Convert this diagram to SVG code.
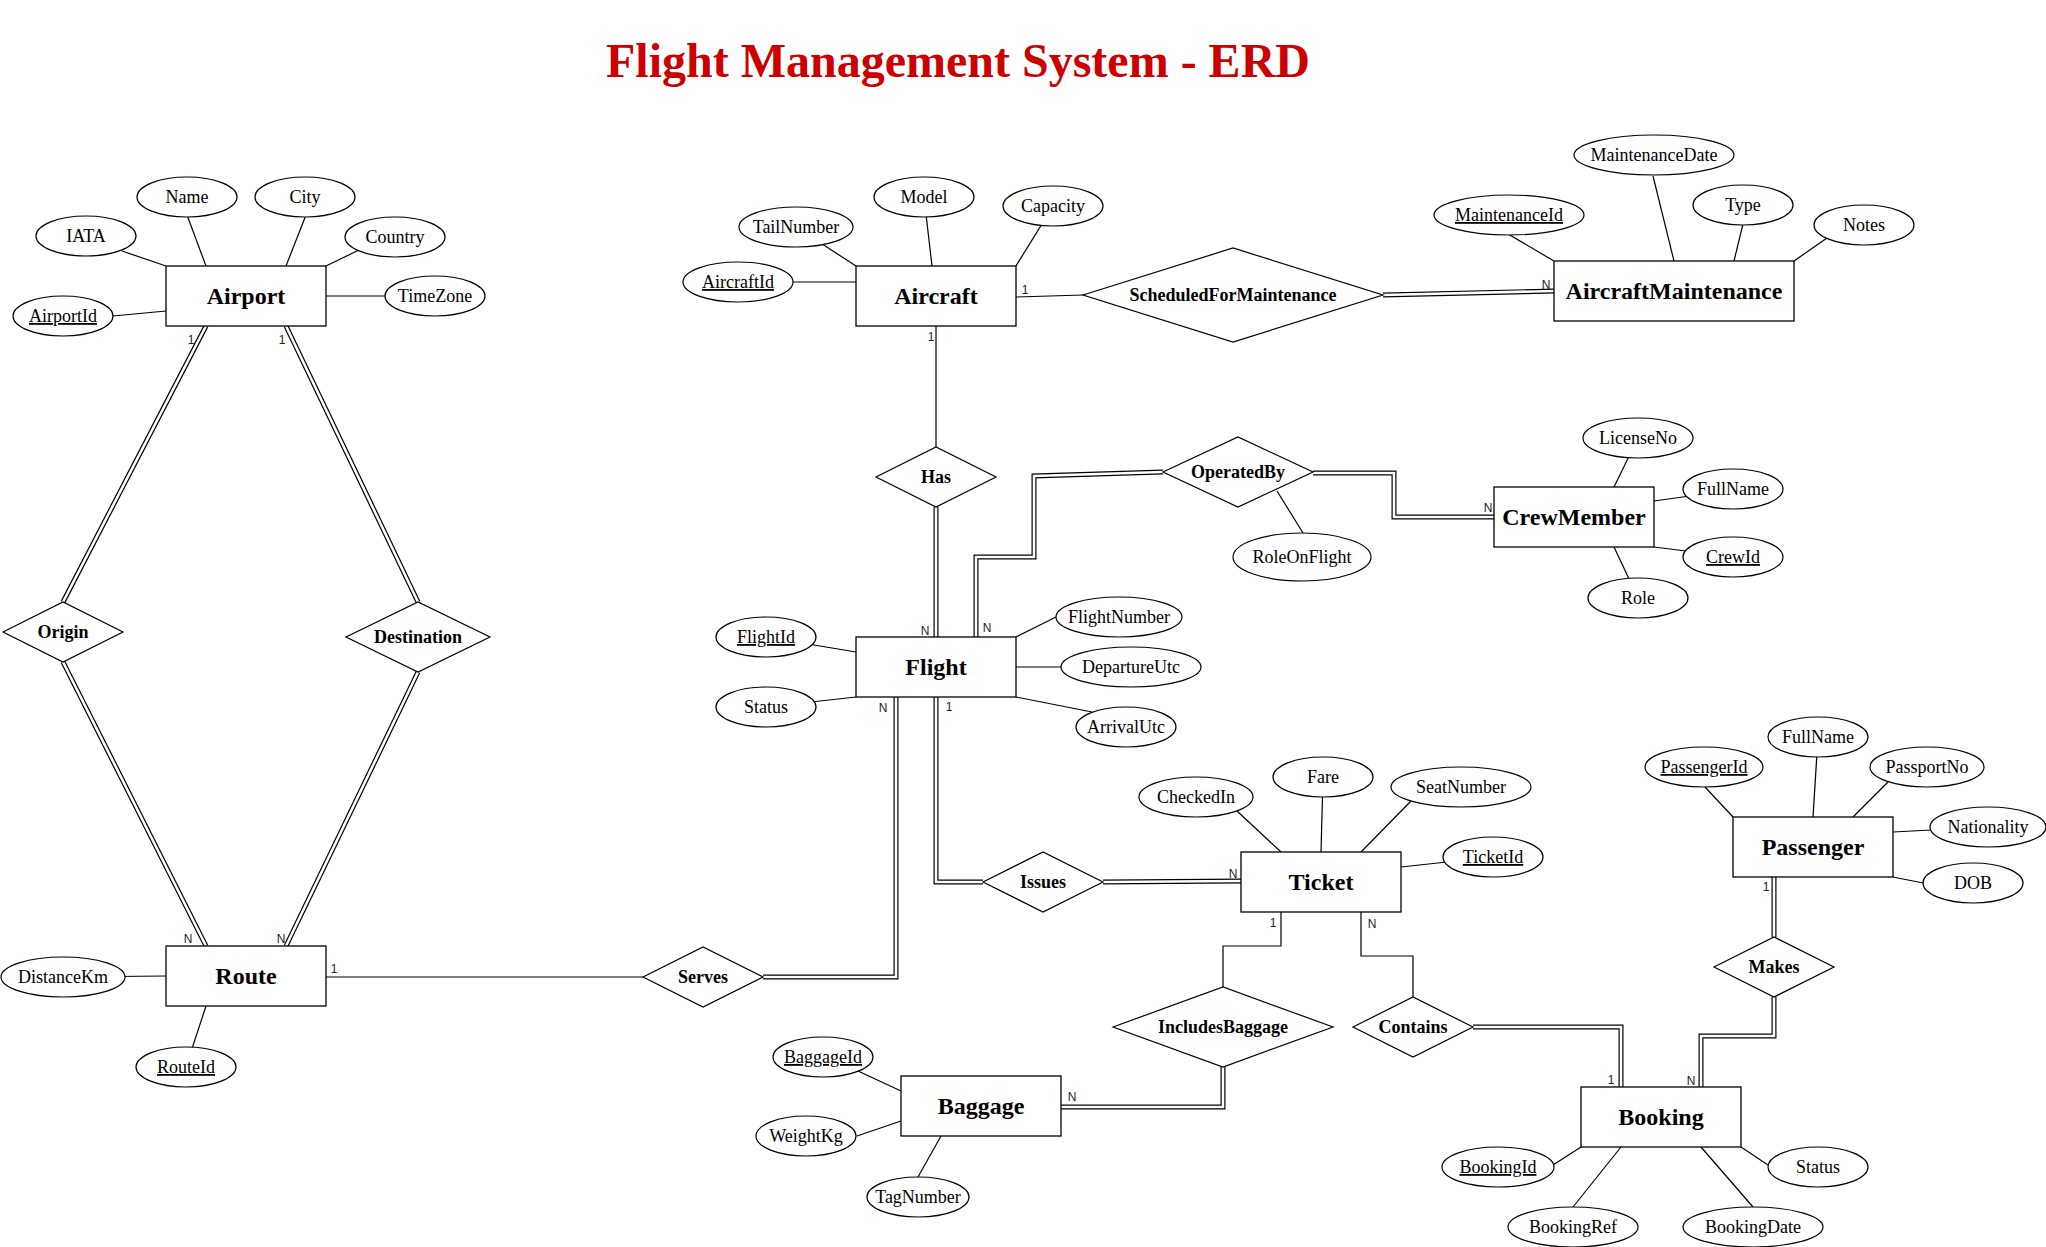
<svg xmlns="http://www.w3.org/2000/svg" width="2046" height="1247" viewBox="0 0 2046 1247">
<style>
.bg{fill:#fff}
.title{font-family:"Liberation Serif",serif;font-weight:bold;font-size:48px;fill:#cc0000;text-anchor:middle}
.ent rect{fill:#fff;stroke:#000;stroke-width:1.3}
.ent text{font-family:"Liberation Serif",serif;font-weight:bold;font-size:24px;fill:#000;text-anchor:middle}
.rel polygon{fill:#fff;stroke:#000;stroke-width:1.2}
.rel text{font-family:"Liberation Serif",serif;font-weight:bold;font-size:18px;fill:#000;text-anchor:middle}
.attr ellipse{fill:#fff;stroke:#000;stroke-width:1.2}
.attr text{font-family:"Liberation Serif",serif;font-size:18px;fill:#000;text-anchor:middle}
.key text{text-decoration:underline}
.ln{stroke:#000;stroke-width:1.2;fill:none}
.d1{stroke:#000;stroke-width:5;fill:none}
.d2{stroke:#fff;stroke-width:2.6;fill:none}
.card{font-family:"Liberation Sans",Arial,sans-serif;font-size:12px;fill:#222;text-anchor:middle}
</style>
<rect class="bg" x="0" y="0" width="2046" height="1247"/>
<text class="title" x="958" y="77">Flight Management System - ERD</text>

<g id="connectors">
  <g id="attr-lines">
    <line class="ln" x1="166" y1="266" x2="122" y2="251"/>
    <line class="ln" x1="206" y1="266" x2="187" y2="215"/>
    <line class="ln" x1="286" y1="266" x2="306" y2="215"/>
    <line class="ln" x1="326" y1="266" x2="359" y2="250"/>
    <line class="ln" x1="326" y1="296" x2="385" y2="296"/>
    <line class="ln" x1="166" y1="311" x2="113" y2="316"/>

    <line class="ln" x1="856" y1="282" x2="793" y2="282"/>
    <line class="ln" x1="856" y1="266" x2="796" y2="227"/>
    <line class="ln" x1="932" y1="266" x2="924" y2="197"/>
    <line class="ln" x1="1016" y1="266" x2="1053" y2="206"/>

    <line class="ln" x1="1554" y1="261" x2="1508" y2="234"/>
    <line class="ln" x1="1674" y1="261" x2="1653" y2="176"/>
    <line class="ln" x1="1734" y1="261" x2="1743" y2="224"/>
    <line class="ln" x1="1794" y1="261" x2="1827" y2="238"/>

    <line class="ln" x1="856" y1="652" x2="766" y2="637"/>
    <line class="ln" x1="856" y1="697" x2="766" y2="707"/>
    <line class="ln" x1="1016" y1="637" x2="1056" y2="617"/>
    <line class="ln" x1="1016" y1="667" x2="1061" y2="667"/>
    <line class="ln" x1="1016" y1="697" x2="1092" y2="712"/>

    <line class="ln" x1="1277" y1="491" x2="1303" y2="533"/>

    <line class="ln" x1="1614" y1="487" x2="1638" y2="438"/>
    <line class="ln" x1="1654" y1="501" x2="1733" y2="490"/>
    <line class="ln" x1="1654" y1="547" x2="1733" y2="557"/>
    <line class="ln" x1="1614" y1="547" x2="1638" y2="598"/>

    <line class="ln" x1="166" y1="976" x2="63" y2="977"/>
    <line class="ln" x1="206" y1="1006" x2="186" y2="1067"/>

    <line class="ln" x1="1281" y1="852" x2="1237" y2="811"/>
    <line class="ln" x1="1321" y1="852" x2="1323" y2="777"/>
    <line class="ln" x1="1361" y1="852" x2="1411" y2="801"/>
    <line class="ln" x1="1401" y1="867" x2="1493" y2="857"/>

    <line class="ln" x1="901" y1="1091" x2="858" y2="1071"/>
    <line class="ln" x1="901" y1="1121" x2="857" y2="1136"/>
    <line class="ln" x1="941" y1="1136" x2="918" y2="1177"/>

    <line class="ln" x1="1733" y1="817" x2="1705" y2="787"/>
    <line class="ln" x1="1813" y1="817" x2="1818" y2="737"/>
    <line class="ln" x1="1853" y1="817" x2="1888" y2="782"/>
    <line class="ln" x1="1893" y1="832" x2="1989" y2="827"/>
    <line class="ln" x1="1893" y1="877" x2="1923" y2="883"/>

    <line class="ln" x1="1581" y1="1147" x2="1553" y2="1165"/>
    <line class="ln" x1="1621" y1="1147" x2="1573" y2="1207"/>
    <line class="ln" x1="1701" y1="1147" x2="1753" y2="1207"/>
    <line class="ln" x1="1741" y1="1147" x2="1768" y2="1165"/>
  </g>

  <g id="rel-lines">
    <path class="d1" d="M206,326 L63,602"/><path class="d2" d="M206,326 L63,602"/>
    <path class="d1" d="M63,662 L206,946"/><path class="d2" d="M63,662 L206,946"/>
    <path class="d1" d="M286,326 L418,602"/><path class="d2" d="M286,326 L418,602"/>
    <path class="d1" d="M418,672 L286,946"/><path class="d2" d="M418,672 L286,946"/>
    <path class="ln" d="M326,977 L643,977"/>
    <path class="d1" d="M763,977 L896,977 L896,697"/><path class="d2" d="M763,977 L896,977 L896,697"/>
    <path class="ln" d="M936,326 L936,447"/>
    <path class="d1" d="M936,507 L936,637"/><path class="d2" d="M936,507 L936,637"/>
    <path class="d1" d="M976,637 L976,557 L1034,557 L1034,476 L1163,472"/><path class="d2" d="M976,637 L976,557 L1034,557 L1034,476 L1163,472"/>
    <path class="d1" d="M1313,473 L1394,473 L1394,517 L1494,517"/><path class="d2" d="M1313,473 L1394,473 L1394,517 L1494,517"/>
    <path class="ln" d="M1016,297 L1083,295"/>
    <path class="d1" d="M1383,295 L1554,291"/><path class="d2" d="M1383,295 L1554,291"/>
    <path class="d1" d="M936,697 L936,882 L983,882"/><path class="d2" d="M936,697 L936,882 L983,882"/>
    <path class="d1" d="M1103,882 L1241,881"/><path class="d2" d="M1103,882 L1241,881"/>
    <path class="ln" d="M1281,912 L1281,946 L1223,946 L1223,987"/>
    <path class="d1" d="M1223,1067 L1223,1107 L1061,1107"/><path class="d2" d="M1223,1067 L1223,1107 L1061,1107"/>
    <path class="ln" d="M1361,912 L1361,956 L1413,956 L1413,997"/>
    <path class="d1" d="M1473,1027 L1621,1027 L1621,1087"/><path class="d2" d="M1473,1027 L1621,1027 L1621,1087"/>
    <path class="d1" d="M1774,877 L1774,937"/><path class="d2" d="M1774,877 L1774,937"/>
    <path class="d1" d="M1774,997 L1774,1036 L1701,1036 L1701,1087"/><path class="d2" d="M1774,997 L1774,1036 L1701,1036 L1701,1087"/>
  </g>

  <g id="cardinalities">
    <text class="card" x="191" y="344">1</text>
    <text class="card" x="282" y="344">1</text>
    <text class="card" x="188" y="943">N</text>
    <text class="card" x="281" y="943">N</text>
    <text class="card" x="334" y="973">1</text>
    <text class="card" x="1025" y="294">1</text>
    <text class="card" x="1546" y="289">N</text>
    <text class="card" x="931" y="341">1</text>
    <text class="card" x="925" y="635">N</text>
    <text class="card" x="987" y="632">N</text>
    <text class="card" x="1488" y="512">N</text>
    <text class="card" x="883" y="712">N</text>
    <text class="card" x="949" y="711">1</text>
    <text class="card" x="1233" y="878">N</text>
    <text class="card" x="1273" y="927">1</text>
    <text class="card" x="1372" y="928">N</text>
    <text class="card" x="1072" y="1101">N</text>
    <text class="card" x="1611" y="1084">1</text>
    <text class="card" x="1691" y="1085">N</text>
    <text class="card" x="1766" y="891">1</text>
  </g>
</g>

<g id="Airport" class="ent"><rect x="166" y="266" width="160" height="60"/><text x="246" y="304">Airport</text></g>
<g id="Aircraft" class="ent"><rect x="856" y="266" width="160" height="60"/><text x="936" y="304">Aircraft</text></g>
<g id="AircraftMaintenance" class="ent"><rect x="1554" y="261" width="240" height="60"/><text x="1674" y="299">AircraftMaintenance</text></g>
<g id="Flight" class="ent"><rect x="856" y="637" width="160" height="60"/><text x="936" y="675">Flight</text></g>
<g id="CrewMember" class="ent"><rect x="1494" y="487" width="160" height="60"/><text x="1574" y="525">CrewMember</text></g>
<g id="Route" class="ent"><rect x="166" y="946" width="160" height="60"/><text x="246" y="984">Route</text></g>
<g id="Ticket" class="ent"><rect x="1241" y="852" width="160" height="60"/><text x="1321" y="890">Ticket</text></g>
<g id="Baggage" class="ent"><rect x="901" y="1076" width="160" height="60"/><text x="981" y="1114">Baggage</text></g>
<g id="Passenger" class="ent"><rect x="1733" y="817" width="160" height="60"/><text x="1813" y="855">Passenger</text></g>
<g id="Booking" class="ent"><rect x="1581" y="1087" width="160" height="60"/><text x="1661" y="1125">Booking</text></g>

<g id="ScheduledForMaintenance" class="rel"><polygon points="1083,295 1233,248 1383,295 1233,342"/><text x="1233" y="301">ScheduledForMaintenance</text></g>
<g id="Has" class="rel"><polygon points="876,477 936,447 996,477 936,507"/><text x="936" y="483">Has</text></g>
<g id="OperatedBy" class="rel"><polygon points="1163,472 1238,437 1313,472 1238,507"/><text x="1238" y="478">OperatedBy</text></g>
<g id="Origin" class="rel"><polygon points="3,632 63,602 123,632 63,662"/><text x="63" y="638">Origin</text></g>
<g id="Destination" class="rel"><polygon points="346,637 418,602 490,637 418,672"/><text x="418" y="643">Destination</text></g>
<g id="Serves" class="rel"><polygon points="643,977 703,947 763,977 703,1007"/><text x="703" y="983">Serves</text></g>
<g id="Issues" class="rel"><polygon points="983,882 1043,852 1103,882 1043,912"/><text x="1043" y="888">Issues</text></g>
<g id="IncludesBaggage" class="rel"><polygon points="1113,1027 1223,987 1333,1027 1223,1067"/><text x="1223" y="1033">IncludesBaggage</text></g>
<g id="Contains" class="rel"><polygon points="1353,1027 1413,997 1473,1027 1413,1057"/><text x="1413" y="1033">Contains</text></g>
<g id="Makes" class="rel"><polygon points="1714,967 1774,937 1834,967 1774,997"/><text x="1774" y="973">Makes</text></g>

<g id="Airport-IATA" class="attr"><ellipse cx="86" cy="236" rx="50" ry="20"/><text x="86" y="242">IATA</text></g>
<g id="Airport-Name" class="attr"><ellipse cx="187" cy="197" rx="50" ry="20"/><text x="187" y="203">Name</text></g>
<g id="Airport-City" class="attr"><ellipse cx="305" cy="197" rx="50" ry="20"/><text x="305" y="203">City</text></g>
<g id="Airport-Country" class="attr"><ellipse cx="395" cy="237" rx="50" ry="20"/><text x="395" y="243">Country</text></g>
<g id="Airport-TimeZone" class="attr"><ellipse cx="435" cy="296" rx="50" ry="20"/><text x="435" y="302">TimeZone</text></g>
<g id="Airport-AirportId" class="attr key"><ellipse cx="63" cy="316" rx="50" ry="20"/><text x="63" y="322">AirportId</text></g>

<g id="Aircraft-AircraftId" class="attr key"><ellipse cx="738" cy="282" rx="55" ry="20"/><text x="738" y="288">AircraftId</text></g>
<g id="Aircraft-TailNumber" class="attr"><ellipse cx="796" cy="227" rx="57" ry="20"/><text x="796" y="233">TailNumber</text></g>
<g id="Aircraft-Model" class="attr"><ellipse cx="924" cy="197" rx="50" ry="20"/><text x="924" y="203">Model</text></g>
<g id="Aircraft-Capacity" class="attr"><ellipse cx="1053" cy="206" rx="50" ry="20"/><text x="1053" y="212">Capacity</text></g>

<g id="AircraftMaintenance-MaintenanceId" class="attr key"><ellipse cx="1509" cy="215" rx="75" ry="20"/><text x="1509" y="221">MaintenanceId</text></g>
<g id="AircraftMaintenance-MaintenanceDate" class="attr"><ellipse cx="1654" cy="155" rx="80" ry="20"/><text x="1654" y="161">MaintenanceDate</text></g>
<g id="AircraftMaintenance-Type" class="attr"><ellipse cx="1743" cy="205" rx="50" ry="20"/><text x="1743" y="211">Type</text></g>
<g id="AircraftMaintenance-Notes" class="attr"><ellipse cx="1864" cy="225" rx="50" ry="20"/><text x="1864" y="231">Notes</text></g>

<g id="Flight-FlightId" class="attr key"><ellipse cx="766" cy="637" rx="50" ry="20"/><text x="766" y="643">FlightId</text></g>
<g id="Flight-Status" class="attr"><ellipse cx="766" cy="707" rx="50" ry="20"/><text x="766" y="713">Status</text></g>
<g id="Flight-FlightNumber" class="attr"><ellipse cx="1119" cy="617" rx="63" ry="20"/><text x="1119" y="623">FlightNumber</text></g>
<g id="Flight-DepartureUtc" class="attr"><ellipse cx="1131" cy="667" rx="70" ry="20"/><text x="1131" y="673">DepartureUtc</text></g>
<g id="Flight-ArrivalUtc" class="attr"><ellipse cx="1126" cy="727" rx="50" ry="20"/><text x="1126" y="733">ArrivalUtc</text></g>

<g id="OperatedBy-RoleOnFlight" class="attr"><ellipse cx="1302" cy="557" rx="69" ry="24"/><text x="1302" y="563">RoleOnFlight</text></g>

<g id="CrewMember-LicenseNo" class="attr"><ellipse cx="1638" cy="438" rx="55" ry="20"/><text x="1638" y="444">LicenseNo</text></g>
<g id="CrewMember-FullName" class="attr"><ellipse cx="1733" cy="489" rx="50" ry="20"/><text x="1733" y="495">FullName</text></g>
<g id="CrewMember-CrewId" class="attr key"><ellipse cx="1733" cy="557" rx="50" ry="20"/><text x="1733" y="563">CrewId</text></g>
<g id="CrewMember-Role" class="attr"><ellipse cx="1638" cy="598" rx="50" ry="20"/><text x="1638" y="604">Role</text></g>

<g id="Route-DistanceKm" class="attr"><ellipse cx="63" cy="977" rx="62" ry="20"/><text x="63" y="983">DistanceKm</text></g>
<g id="Route-RouteId" class="attr key"><ellipse cx="186" cy="1067" rx="50" ry="20"/><text x="186" y="1073">RouteId</text></g>

<g id="Ticket-CheckedIn" class="attr"><ellipse cx="1196" cy="797" rx="57" ry="20"/><text x="1196" y="803">CheckedIn</text></g>
<g id="Ticket-Fare" class="attr"><ellipse cx="1323" cy="777" rx="50" ry="20"/><text x="1323" y="783">Fare</text></g>
<g id="Ticket-SeatNumber" class="attr"><ellipse cx="1461" cy="787" rx="70" ry="20"/><text x="1461" y="793">SeatNumber</text></g>
<g id="Ticket-TicketId" class="attr key"><ellipse cx="1493" cy="857" rx="50" ry="20"/><text x="1493" y="863">TicketId</text></g>

<g id="Baggage-BaggageId" class="attr key"><ellipse cx="823" cy="1057" rx="50" ry="20"/><text x="823" y="1063">BaggageId</text></g>
<g id="Baggage-WeightKg" class="attr"><ellipse cx="806" cy="1136" rx="50" ry="20"/><text x="806" y="1142">WeightKg</text></g>
<g id="Baggage-TagNumber" class="attr"><ellipse cx="918" cy="1197" rx="51" ry="20"/><text x="918" y="1203">TagNumber</text></g>

<g id="Passenger-PassengerId" class="attr key"><ellipse cx="1704" cy="767" rx="59" ry="20"/><text x="1704" y="773">PassengerId</text></g>
<g id="Passenger-FullName" class="attr"><ellipse cx="1818" cy="737" rx="50" ry="20"/><text x="1818" y="743">FullName</text></g>
<g id="Passenger-PassportNo" class="attr"><ellipse cx="1927" cy="767" rx="57" ry="20"/><text x="1927" y="773">PassportNo</text></g>
<g id="Passenger-Nationality" class="attr"><ellipse cx="1988" cy="827" rx="58" ry="20"/><text x="1988" y="833">Nationality</text></g>
<g id="Passenger-DOB" class="attr"><ellipse cx="1973" cy="883" rx="50" ry="20"/><text x="1973" y="889">DOB</text></g>

<g id="Booking-BookingId" class="attr key"><ellipse cx="1498" cy="1167" rx="56" ry="20"/><text x="1498" y="1173">BookingId</text></g>
<g id="Booking-BookingRef" class="attr"><ellipse cx="1573" cy="1227" rx="65" ry="20"/><text x="1573" y="1233">BookingRef</text></g>
<g id="Booking-BookingDate" class="attr"><ellipse cx="1753" cy="1227" rx="70" ry="20"/><text x="1753" y="1233">BookingDate</text></g>
<g id="Booking-Status" class="attr"><ellipse cx="1818" cy="1167" rx="50" ry="20"/><text x="1818" y="1173">Status</text></g>
</svg>
